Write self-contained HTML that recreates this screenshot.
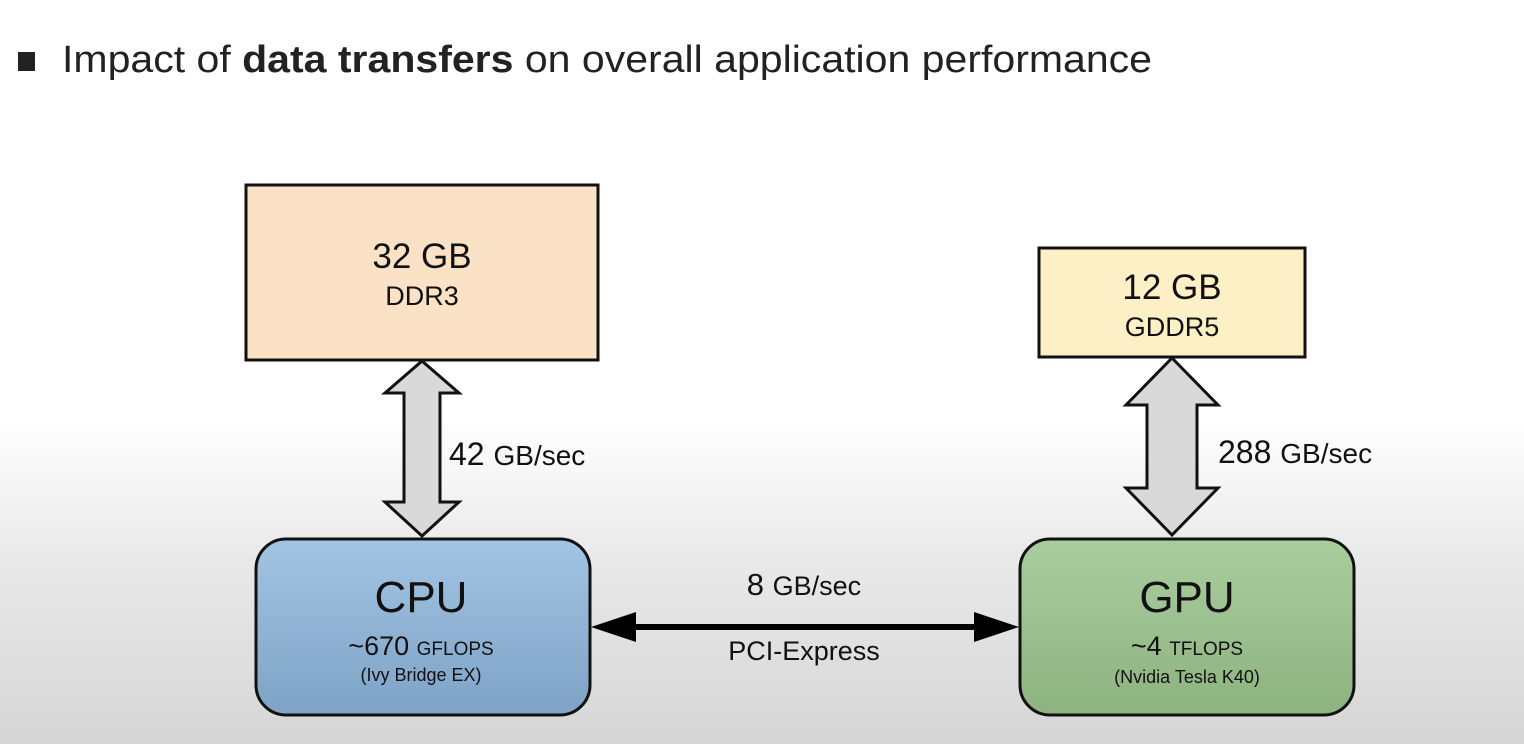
<!DOCTYPE html>
<html><head><style>
html,body{margin:0;padding:0}
body{width:1524px;height:744px;overflow:hidden;background:linear-gradient(to bottom,#fff 0,#fff 420px,#e9e9e9 560px,#d6d6d6 744px);font-family:"Liberation Sans",sans-serif}
</style></head><body>
<svg width="1524" height="744" viewBox="0 0 1524 744" style="position:absolute;left:0;top:0">
<defs>
<linearGradient id="cpu" x1="0" y1="0" x2="0" y2="1"><stop offset="0" stop-color="#a3c4e4"/><stop offset="1" stop-color="#7ea3c6"/></linearGradient>
<linearGradient id="gpu" x1="0" y1="0" x2="0" y2="1"><stop offset="0" stop-color="#aacd9e"/><stop offset="1" stop-color="#8db380"/></linearGradient>
</defs>
<rect x="18" y="52" width="17" height="19" fill="#222"/>
<text x="62" y="72" font-size="38" fill="#222" textLength="1090" lengthAdjust="spacingAndGlyphs">Impact of <tspan font-weight="bold">data transfers</tspan> on overall application performance</text>

<rect x="246" y="185" width="352" height="175" fill="#fbe2c6" stroke="#111" stroke-width="3"/>
<text x="422" y="268" font-size="35" text-anchor="middle" fill="#111">32 GB</text>
<text x="422" y="305" font-size="27" text-anchor="middle" fill="#111">DDR3</text>

<rect x="1039" y="248" width="266" height="109" fill="#fdf0c7" stroke="#111" stroke-width="3"/>
<text x="1172" y="299" font-size="35" text-anchor="middle" fill="#111">12 GB</text>
<text x="1172" y="336" font-size="27" text-anchor="middle" fill="#111">GDDR5</text>

<polygon points="422,361 459,393 440,393 440,502 459,502 422,536 385,502 404,502 404,393 385,393" fill="#d9d9d9" stroke="#111" stroke-width="3" stroke-linejoin="miter"/>
<text x="449" y="465" font-size="32" fill="#111">42 <tspan font-size="28">GB/sec</tspan></text>

<polygon points="1172,358 1218,405 1197,405 1197,488 1218,488 1172,535 1126,488 1147,488 1147,405 1126,405" fill="#d9d9d9" stroke="#111" stroke-width="3"/>
<text x="1218" y="463" font-size="32" fill="#111">288 <tspan font-size="28">GB/sec</tspan></text>

<rect x="256" y="539" width="334" height="176" rx="30" fill="url(#cpu)" stroke="#111" stroke-width="3"/>
<text x="421" y="612" font-size="44" text-anchor="middle" fill="#111">CPU</text>
<text x="421" y="655" font-size="27" text-anchor="middle" fill="#111">~670 <tspan font-size="19">GFLOPS</tspan></text>
<text x="421" y="681" font-size="18" text-anchor="middle" fill="#111">(Ivy Bridge EX)</text>

<rect x="1020" y="539" width="334" height="176" rx="30" fill="url(#gpu)" stroke="#111" stroke-width="3"/>
<text x="1187" y="612" font-size="44" text-anchor="middle" fill="#111">GPU</text>
<text x="1187" y="655" font-size="27" text-anchor="middle" fill="#111">~4 <tspan font-size="19">TFLOPS</tspan></text>
<text x="1187" y="683" font-size="18" text-anchor="middle" fill="#111">(Nvidia Tesla K40)</text>

<rect x="630" y="624" width="350" height="6" fill="#000"/>
<polygon points="591,627 636,612 636,642" fill="#000"/>
<polygon points="1019,627 974,612 974,642" fill="#000"/>
<text x="804" y="595" font-size="31" text-anchor="middle" fill="#111">8 <tspan font-size="27">GB/sec</tspan></text>
<text x="804" y="660" font-size="27" text-anchor="middle" fill="#111">PCI-Express</text>
</svg>
</body></html>
